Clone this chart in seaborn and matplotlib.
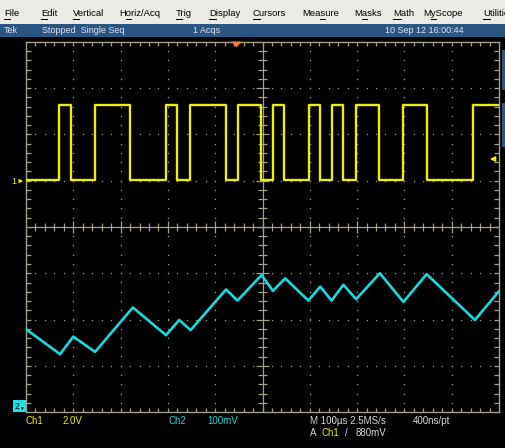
import numpy as np
import pandas as pd
import matplotlib
matplotlib.use("Agg")
import matplotlib.pyplot as plt
import seaborn as sns
from matplotlib.collections import LineCollection
from matplotlib.patches import Rectangle, Polygon

# ---------------- data (time in divisions 0..10, amplitude in divisions -4..4) ----
ch1_edge_times = [0.70, 0.95, 1.46, 2.20, 2.96, 3.19, 3.47, 4.23, 4.48, 4.97, 5.22,
                  5.46, 5.98, 6.22, 6.47, 6.70, 6.98, 7.46, 7.97, 8.48, 9.45]
ch1_low = 1.02
ch1_high = 2.64

ch2_times = [0.00, 0.72, 1.00, 1.46, 2.26, 2.96, 3.24, 3.48, 4.23, 4.47, 4.98, 5.22,
             5.48, 5.97, 6.22, 6.46, 6.71, 6.98, 7.48, 7.98, 8.47, 9.49, 9.99]
ch2_values = [-2.21, -2.75, -2.37, -2.70, -1.74, -2.34, -2.01, -2.23, -1.35, -1.59,
              -1.04, -1.38, -1.11, -1.59, -1.29, -1.59, -1.25, -1.56, -1.00, -1.62,
              -1.02, -2.01, -1.40]

menu_items = ["File", "Edit", "Vertical", "Horiz/Acq", "Trig", "Display", "Cursors",
              "Measure", "Masks", "Math", "MyScope", "Utilities"]
menu_underline = [0, 0, 0, 1, 0, 0, 0, 3, 1, 0, 1, 0]
menu_x = [4, 41, 73, 119, 176, 209, 253, 302, 354, 393, 423, 483]

status_texts = ["Tek", "Stopped  Single Seq", "1 Acqs", "10 Sep 12 16:00:44"]
status_x = [4, 42, 193, 385]

# ---------------- colours -----------------------------------------------------------
YEL = "#ecec10"
CYA = "#18dada"
GRAT = "#a39f88"
BLUE = "#2b5583"
TXT = "#d8d8d8"

W, H = 506, 448
fig = plt.figure(figsize=(W / 100, H / 100), dpi=100, facecolor="black")
FONT = ["Liberation Sans", "DejaVu Sans"]

# background overlay (pixel coordinates)
bg = fig.add_axes([0, 0, 1, 1], zorder=0)
bg.set_xlim(0, W)
bg.set_ylim(H, 0)
bg.axis("off")
bg.add_patch(Rectangle((0, 0), W, 24.5, color="#ebeae5", lw=0))
bg.add_patch(Rectangle((0, 24.5), W, 12.5, color=BLUE, lw=0))
bg.add_patch(Rectangle((502, 50), 4, 40, color=BLUE, lw=0))
bg.add_patch(Rectangle((502, 103), 4, 44, color=BLUE, lw=0))

fig.canvas.draw()
renderer = fig.canvas.get_renderer()


def text_width(s, **kw):
    if not s:
        return 0.0
    t = bg.text(0, 0, s, **kw)
    w = t.get_window_extent(renderer).width
    t.remove()
    return w


menu_kw = dict(fontsize=6.8, family=FONT, color="black")
for label, x, ui in zip(menu_items, menu_x, menu_underline):
    bg.text(x, 13.5, label, va="center", ha="left", clip_on=True, **menu_kw)
    x0 = x + text_width(label[:ui], **menu_kw)
    x1 = x + text_width(label[:ui + 1], **menu_kw)
    bg.plot([x0, x1], [18.7, 18.7], color="black", lw=0.7)

for label, x in zip(status_texts, status_x):
    bg.text(x, 30.8, label, va="center", ha="left", fontsize=6.5, family=FONT,
            color="#dfe6ee")

# ---------------- main graticule axes ---------------------------------------------
ax = fig.add_axes([26 / W, (H - 412) / H, 473 / W, 370 / H], zorder=1)
ax.set_facecolor("black")
ax.set_xlim(0, 10)
ax.set_ylim(-4, 4)

# dotted grid
for xm in [1, 2, 3, 4, 6, 7, 8, 9]:
    ys = np.arange(-3.8, 3.81, 0.2)
    ax.scatter(np.full_like(ys, xm), ys, s=1.0, color=GRAT, lw=0, zorder=1)
for ym in [-3, -2, -1, 1, 2, 3]:
    xs = np.arange(0.2, 9.81, 0.2)
    ax.scatter(xs, np.full_like(xs, ym), s=1.0, color=GRAT, lw=0, zorder=1)

ax.axvline(5, color=GRAT, lw=0.9, zorder=1)
ax.axhline(0, color=GRAT, lw=0.9, zorder=1)

segs = []
for k in range(1, 50):
    x = k * 0.2
    h = 0.13 if k % 5 == 0 else 0.085
    segs.append([(x, -h), (x, h)])
    segs.append([(x, 4), (x, 3.91)])
    segs.append([(x, -4), (x, -3.91)])
for k in range(-19, 20):
    y = k * 0.2
    h = 0.13 if k % 5 == 0 else 0.085
    segs.append([(5 - h, y), (5 + h, y)])
    segs.append([(0, y), (0.1, y)])
    segs.append([(10, y), (9.9, y)])
ax.add_collection(LineCollection(segs, colors=GRAT, lw=0.9, zorder=1))

for sp in ax.spines.values():
    sp.set_color(GRAT)
    sp.set_linewidth(1.0)

# channel 1 (square wave)
ch1_t = [0.0] + ch1_edge_times + [10.0]
ch1_v = [ch1_low if i % 2 == 0 else ch1_high for i in range(len(ch1_edge_times) + 1)]
ch1_v = ch1_v + [ch1_v[-1]]
df1 = pd.DataFrame({"t": ch1_t, "v": ch1_v})
sns.lineplot(data=df1, x="t", y="v", ax=ax, color=YEL, lw=1.7, estimator=None,
             sort=False, drawstyle="steps-post", zorder=3)

# channel 2 (triangle wave)
df2 = pd.DataFrame({"t": ch2_times, "v": ch2_values})
sns.lineplot(data=df2, x="t", y="v", ax=ax, color=CYA, lw=1.9, estimator=None,
             sort=False, zorder=3)

ax.set_xlim(0, 10)
ax.set_ylim(-4, 4)
ax.set_xticks([])
ax.set_yticks([])
ax.set_xlabel("")
ax.set_ylabel("")

# ---------------- top overlay for markers and readouts ----------------------------
top = fig.add_axes([0, 0, 1, 1], zorder=2)
top.set_xlim(0, W)
top.set_ylim(H, 0)
top.axis("off")

# trigger position marker
top.add_patch(Polygon([(231.5, 41.5), (241.5, 41.5), (236.5, 47.5)], closed=True,
                      color="#ff7a30", lw=0))
# channel 1 ground marker
top.text(11, 181, "1", color=YEL, fontsize=6.5, family=FONT, va="center", ha="left")
top.annotate("", xy=(26, 181), xytext=(17, 181),
             arrowprops=dict(arrowstyle="-|>", color=YEL, lw=0.9, mutation_scale=5))
# trigger level marker
top.annotate("", xy=(487, 159), xytext=(497, 159),
             arrowprops=dict(arrowstyle="-|>", color=YEL, lw=1.2, mutation_scale=7))
# channel 2 ground marker
top.add_patch(Rectangle((13.3, 400.5), 12.7, 11.5, color="#20e0e8", lw=0))
top.text(14.5, 406.5, "2", color="black", fontsize=6.2, family=FONT, va="center",
         ha="left")
top.annotate("", xy=(22.5, 410), xytext=(22.5, 405),
             arrowprops=dict(arrowstyle="-|>", color="black", lw=0.6, mutation_scale=3))

# readouts
bkw = dict(fontsize=7.0, family=FONT, va="center", ha="left")
top.text(26, 421, "Ch1", color=YEL, **bkw)
top.text(63, 421, "2.0V", color=YEL, **bkw)
top.text(169, 421, "Ch2", color=CYA, **bkw)
top.text(207, 421, "100mV", color=CYA, **bkw)
top.text(310, 421, "M 100µs 2.5MS/s", color=TXT, **bkw)
top.text(413, 421, "400ns/pt", color=TXT, **bkw)
top.text(310, 432.5, "A", color=TXT, **bkw)
top.text(322, 432.5, "Ch1", color=YEL, **bkw)
top.text(345, 432.5, "/", color=TXT, **bkw)
top.text(356, 432.5, "880mV", color=TXT, **bkw)

fig.savefig("out.png", dpi=100, facecolor="black")
